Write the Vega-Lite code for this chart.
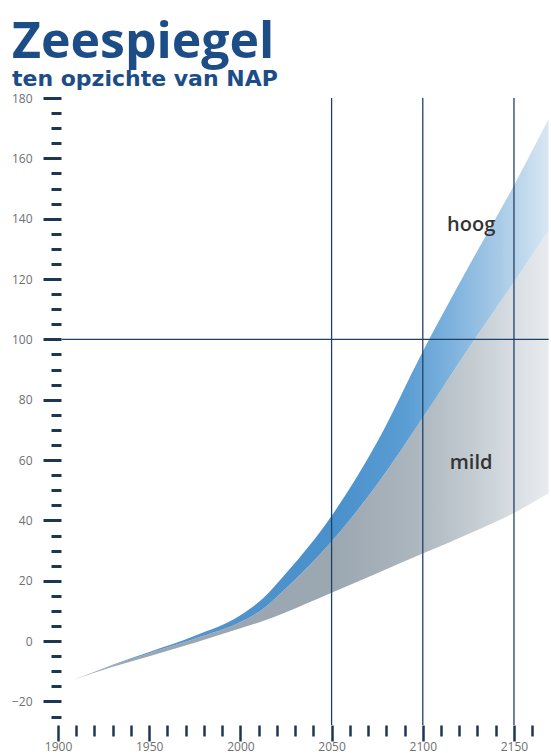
{
  "$schema": "https://vega.github.io/schema/vega-lite/v6.json",
  "autosize": "none",
  "width": 497,
  "height": 627,
  "padding": {"left": 54, "top": 98, "right": 0, "bottom": 28},
  "background": "white",
  "config": {"view": {"stroke": null}},
  "title": {
    "text": "Zeespiegel",
    "subtitle": "ten opzichte van NAP",
    "anchor": "start",
    "frame": "group",
    "dx": -42,
    "offset": 2,
    "font": "Open Sans",
    "fontSize": 50,
    "fontWeight": "bold",
    "color": "#1c4d86",
    "subtitleFont": "DejaVu Sans",
    "subtitleFontSize": 22,
    "subtitleFontWeight": "bold",
    "subtitleColor": "#1c4d86",
    "subtitlePadding": 1
  },
  "datasets": {
    "bands": [
      {"year": 1908, "laag": -13, "mild": -13, "hoog": -13},
      {"year": 1930, "laag": -8.5, "mild": -8, "hoog": -7.8},
      {"year": 1950, "laag": -5, "mild": -4, "hoog": -3.6},
      {"year": 1975, "laag": -0.5, "mild": 0.8, "hoog": 1.8},
      {"year": 2000, "laag": 4.3, "mild": 6.3, "hoog": 8.6},
      {"year": 2012, "laag": 6.6, "mild": 10.5, "hoog": 14},
      {"year": 2025, "laag": 9.6, "mild": 17.5, "hoog": 22.5},
      {"year": 2050, "laag": 16, "mild": 33, "hoog": 41.5},
      {"year": 2075, "laag": 22.5, "mild": 52, "hoog": 66},
      {"year": 2100, "laag": 29, "mild": 74, "hoog": 96},
      {"year": 2125, "laag": 35.5, "mild": 97, "hoog": 124},
      {"year": 2150, "laag": 42.5, "mild": 119, "hoog": 151},
      {"year": 2169, "laag": 49, "mild": 136, "hoog": 173}
    ],
    "vlines": [{"year": 2050}, {"year": 2100}, {"year": 2150}],
    "hline": [{"from": 1902, "to": 2169, "value": 100}],
    "labels": [
      {"year": 2126.5, "value": 138, "label": "hoog"},
      {"year": 2126.5, "value": 59, "label": "mild"}
    ]
  },
  "layer": [
    {
      "data": {"name": "bands"},
      "mark": {
        "type": "area",
        "interpolate": "monotone",
        "color": {
          "gradient": "linear", "x1": 0, "y1": 0, "x2": 1, "y2": 0,
          "stops": [
            {"offset": 0, "color": "#9ca6af"},
            {"offset": 0.55, "color": "#9ba7b1"},
            {"offset": 0.72, "color": "#acb6be"},
            {"offset": 0.85, "color": "#c6ced4"},
            {"offset": 0.95, "color": "#dde2e6"},
            {"offset": 1, "color": "#e9ecef"}
          ]
        }
      },
      "encoding": {
        "x": {
          "field": "year", "type": "quantitative",
          "scale": {"domain": [1897.8, 2170.3], "nice": false, "zero": false},
          "axis": {
            "title": null,
            "tickCount": 200,
            "values": [1900, 1910, 1920, 1930, 1940, 1950, 1960, 1970, 1980, 1990, 2000, 2010, 2020, 2030, 2040, 2050, 2060, 2070, 2080, 2090, 2100, 2110, 2120, 2130, 2140, 2150, 2160],
            "domain": false,
            "grid": false,
            "tickColor": "#1d3652",
            "tickWidth": 2.5,
            "tickSize": {"condition": {"test": "datum.value % 50 === 0", "value": 16}, "value": 11},
            "labelExpr": "datum.value % 50 === 0 ? datum.label : ''",
            "format": "d",
            "labelFont": "Open Sans",
            "labelFontSize": 12,
            "labelColor": "#6f6f6f",
            "labelPadding": 0,
            "labelFlush": false,
            "labelOverlap": false
          }
        },
        "y": {
          "field": "laag", "type": "quantitative",
          "scale": {"domain": [-27.8, 180], "nice": false, "zero": false},
          "axis": {
            "title": null,
            "tickCount": 200,
            "values": [-25, -20, -15, -10, -5, 0, 5, 10, 15, 20, 25, 30, 35, 40, 45, 50, 55, 60, 65, 70, 75, 80, 85, 90, 95, 100, 105, 110, 115, 120, 125, 130, 135, 140, 145, 150, 155, 160, 165, 170, 175, 180],
            "domain": false,
            "grid": false,
            "offset": -7,
            "tickColor": "#1d3652",
            "tickWidth": 3,
            "tickSize": {"condition": {"test": "datum.value % 20 === 0", "value": 18}, "value": 10},
            "labelExpr": "datum.value % 20 === 0 ? datum.label : ''",
            "labelFont": "Open Sans",
            "labelFontSize": 12,
            "labelColor": "#6f6f6f",
            "labelPadding": 11,
            "labelFlush": false,
            "labelOverlap": false
          }
        },
        "y2": {"field": "mild"}
      }
    },
    {
      "data": {"name": "bands"},
      "mark": {
        "type": "area",
        "interpolate": "monotone",
        "color": {
          "gradient": "linear", "x1": 0, "y1": 0, "x2": 1, "y2": 0,
          "stops": [
            {"offset": 0, "color": "#5b98cc"},
            {"offset": 0.55, "color": "#4a90cb"},
            {"offset": 0.7, "color": "#5a9dd3"},
            {"offset": 0.8, "color": "#7fb3de"},
            {"offset": 0.9, "color": "#aacbe7"},
            {"offset": 1, "color": "#d8e7f3"}
          ]
        }
      },
      "encoding": {
        "x": {"field": "year", "type": "quantitative"},
        "y": {"field": "mild", "type": "quantitative"},
        "y2": {"field": "hoog"}
      }
    },
    {
      "data": {"name": "hline"},
      "mark": {"type": "rule", "color": "#1e4266", "strokeWidth": 1.3},
      "encoding": {
        "x": {"field": "from", "type": "quantitative"},
        "x2": {"field": "to"},
        "y": {"field": "value", "type": "quantitative"}
      }
    },
    {
      "data": {"name": "vlines"},
      "mark": {"type": "rule", "color": "#1e4266", "strokeWidth": 1.3},
      "encoding": {
        "x": {"field": "year", "type": "quantitative"}
      }
    },
    {
      "data": {"name": "labels"},
      "mark": {"type": "text", "font": "Open Sans", "fontSize": 20, "fontWeight": 600, "color": "#333333", "align": "center", "baseline": "middle"},
      "encoding": {
        "x": {"field": "year", "type": "quantitative"},
        "y": {"field": "value", "type": "quantitative"},
        "text": {"field": "label"}
      }
    }
  ]
}
